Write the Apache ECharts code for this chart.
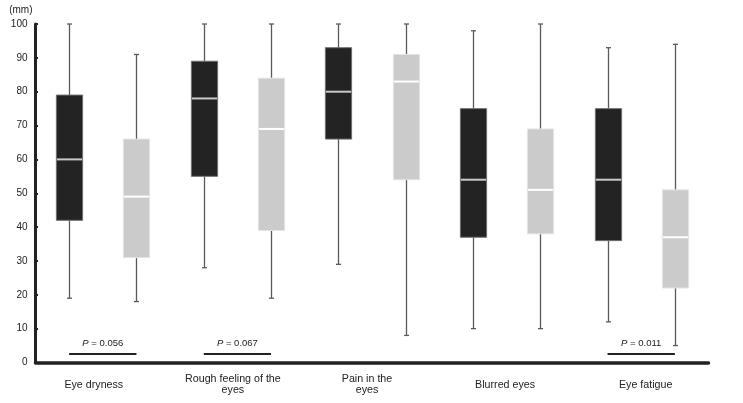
<!DOCTYPE html>
<html>
<head>
<meta charset="utf-8">
<script src="https://cdn.jsdelivr.net/npm/echarts@6/dist/echarts.min.js"></script>
<style>
html,body{margin:0;padding:0;background:#fff;}
#chart{width:743px;height:403px;}
</style>
</head>
<body>
<div id="chart"></div>
<script>
// ---- data ----
var categories = ['Eye dryness', 'Rough feeling of the\neyes', 'Pain in the\neyes', 'Blurred eyes', 'Eye fatigue'];
// [min, Q1, median, Q3, max]
var darkGroup = [
  [19, 42, 60, 79, 100],
  [28, 55, 78, 89, 100],
  [29, 66, 80, 93, 100],
  [10, 37, 54, 75, 98],
  [12, 36, 54, 75, 93]
];
var lightGroup = [
  [18, 31, 49, 66, 91],
  [19, 39, 69, 84, 100],
  [8, 54, 83, 91, 100],
  [10, 38, 51, 69, 100],
  [5, 22, 37, 51, 94]
];
var pValues = ['0.056', '0.067', null, null, '0.011'];
var pLineLevel = 2.7;
var yTicks = [0, 10, 20, 30, 40, 50, 60, 70, 80, 90, 100];

// ---- build ----
var slots = [];
var boxData = [];
for (var i = 0; i < categories.length; i++) {
  slots.push('a' + i, 'b' + i);
  boxData.push([2 * i].concat(darkGroup[i]).concat([0]));
  boxData.push([2 * i + 1].concat(lightGroup[i]).concat([1]));
}
var markLines = [];
for (var j = 0; j < pValues.length; j++) {
  if (pValues[j]) {
    markLines.push([
      { coord: [2 * j, pLineLevel], label: { formatter: '{i|P} = ' + pValues[j] } },
      { coord: [2 * j + 1, pLineLevel] }
    ]);
  }
}
var labelShift = [-9, -4.5, -5, -1.5, 4.5];
var catData = categories.map(function (c, k) {
  var s = labelShift[k];
  return { value: c, textStyle: { padding: s < 0 ? [0, -2 * s, 0, 0] : [0, 0, 0, 2 * s] } };
});

var styles = [
  { fill: '#232323', stroke: '#6f6f6f', median: '#c9c9c9' },
  { fill: '#cbcbcb', stroke: '#e4e4e4', median: '#ffffff' }
];
var FONT = 'Liberation Sans, Arial, sans-serif';

var chart = echarts.init(document.getElementById('chart'), null, { renderer: 'canvas' });
chart.setOption({
  animation: false,
  backgroundColor: '#ffffff',
  textStyle: { fontFamily: FONT },
  grid: { left: 35.5, right: 34.5, top: 24, bottom: 40.5, containLabel: false, outerBoundsMode: 'none' },
  xAxis: [
    {
      type: 'category', data: slots, boundaryGap: true,
      axisLine: { show: true, onZero: false, lineStyle: { color: '#222', width: 3.5 } },
      axisTick: { show: false }, axisLabel: { show: false }, splitLine: { show: false }
    },
    {
      type: 'category', data: catData, position: 'bottom', boundaryGap: true,
      axisLine: { show: false }, axisTick: { show: false }, splitLine: { show: false },
      axisLabel: {
        interval: 0, margin: 11.5, verticalAlign: 'top', color: '#222',
        fontSize: 10.7, lineHeight: 11, fontFamily: FONT,
        formatter: function (v) {
          return v.indexOf('\n') >= 0 ? v : '{s|' + v + '}';
        },
        rich: { s: { lineHeight: 22, fontSize: 10.7, color: '#222', fontFamily: FONT } }
      }
    }
  ],
  yAxis: {
    type: 'value', min: 0, max: 100, interval: 10,
    name: '(mm)', nameLocation: 'end', nameGap: 14,
    nameTextStyle: { color: '#222', fontSize: 10, align: 'right', verticalAlign: 'middle', padding: [0, 3, 0, 0] },
    axisLine: { show: true, lineStyle: { color: '#222', width: 3 } },
    axisTick: { show: true, inside: true, length: 2.5, lineStyle: { color: '#222', width: 2 } },
    axisLabel: {
      color: '#222', fontSize: 10, margin: 8,
      formatter: function (v) { return yTicks.indexOf(v) >= 0 ? String(v) : ''; }
    },
    splitLine: { show: false }
  },
  series: [{
    type: 'custom',
    xAxisIndex: 0, yAxisIndex: 0,
    data: boxData,
    encode: { x: 0, y: [1, 2, 3, 4, 5] },
    renderItem: function (params, api) {
      var x = api.value(0);
      var g = api.value(6);
      var st = styles[g];
      var pMin = api.coord([x, api.value(1)]);
      var pQ1 = api.coord([x, api.value(2)]);
      var pMed = api.coord([x, api.value(3)]);
      var pQ3 = api.coord([x, api.value(4)]);
      var pMax = api.coord([x, api.value(5)]);
      var bw = api.size([1, 0])[0] * 0.39;
      var cx = Math.round(pMed[0]) + 0.5;
      var cap = 2.5;
      var wStyle = { stroke: '#5a5a5a', lineWidth: 1.3 };
      return {
        type: 'group',
        children: [
          { type: 'line', shape: { x1: cx, y1: pMax[1], x2: cx, y2: pQ3[1] }, style: wStyle },
          { type: 'line', shape: { x1: cx, y1: pQ1[1], x2: cx, y2: pMin[1] }, style: wStyle },
          { type: 'line', shape: { x1: cx - cap, y1: pMax[1], x2: cx + cap, y2: pMax[1] }, style: wStyle },
          { type: 'line', shape: { x1: cx - cap, y1: pMin[1], x2: cx + cap, y2: pMin[1] }, style: wStyle },
          { type: 'rect', shape: { x: cx - bw / 2, y: pQ3[1], width: bw, height: pQ1[1] - pQ3[1] },
            style: { fill: st.fill, stroke: st.stroke, lineWidth: 1 } },
          { type: 'line', shape: { x1: cx - bw / 2 + 0.5, y1: pMed[1], x2: cx + bw / 2 - 0.5, y2: pMed[1] },
            style: { stroke: st.median, lineWidth: 2 } }
        ]
      };
    },
    markLine: {
      silent: true, symbol: 'none', animation: false,
      lineStyle: { color: '#222', width: 2, type: 'solid' },
      label: {
        show: true, position: 'middle', distance: 5, color: '#222', fontSize: 9.5,
        rich: { i: { fontStyle: 'italic', fontSize: 9.5, color: '#222' } }
      },
      emphasis: { disabled: true },
      data: markLines
    }
  }]
});
</script>
</body>
</html>
